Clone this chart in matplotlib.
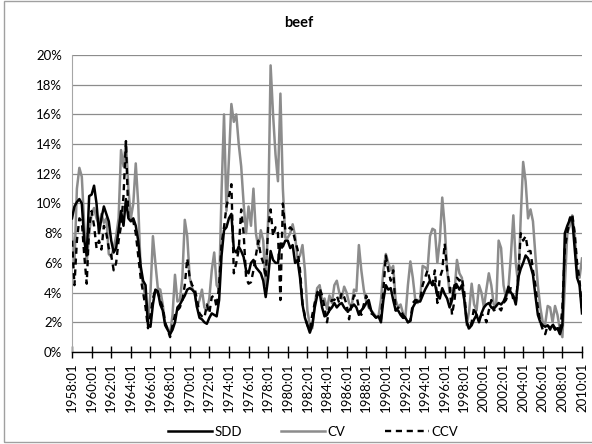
import numpy as np
import matplotlib
matplotlib.use("Agg")
import matplotlib.pyplot as plt
from matplotlib.lines import Line2D
from matplotlib.patches import Rectangle

plt.rcParams['font.family'] = ['Lato', 'DejaVu Sans']

# quarterly readings (Jan, Apr, Jul, Oct) from 1958:01 to 2010:01, in percent
sdd = [
    9.0, 9.8, 10.1, 10.3,   # 1958
    10.0, 7.5, 6.5, 10.5,   # 1959
    10.6, 11.2, 10.0, 8.0,  # 1960
    9.0, 9.8, 9.3, 8.8,     # 1961
    7.5, 6.7, 7.0, 8.2,     # 1962
    9.5, 8.5, 10.3, 9.0,    # 1963
    8.8, 9.0, 8.5, 7.5,     # 1964
    5.8, 4.8, 4.5, 1.8,     # 1965
    1.7, 3.2, 4.2, 4.1,     # 1966
    3.2, 2.8, 1.8, 1.5,     # 1967
    1.2, 1.5, 2.0, 3.0,     # 1968
    3.2, 3.5, 3.8, 4.2,     # 1969
    4.3, 4.2, 4.0, 3.0,     # 1970
    2.3, 2.2, 2.0, 1.9,     # 1971
    2.3, 2.6, 2.5, 2.4,     # 1972
    3.5, 6.5, 8.2, 8.4,     # 1973
    9.0, 9.3, 6.9, 6.7,     # 1974
    7.1, 6.8, 6.4, 5.5,     # 1975
    5.3, 6.0, 6.2, 5.7,     # 1976
    5.5, 5.3, 4.8, 3.7,     # 1977
    5.0, 6.8, 6.2, 6.0,     # 1978
    6.0, 7.3, 7.1, 7.5,     # 1979
    7.5, 7.0, 7.2, 6.0,     # 1980
    6.2, 5.0, 3.2, 2.3,     # 1981
    1.8, 1.3, 1.8, 3.0,     # 1982
    3.8, 4.0, 3.0, 2.4,     # 1983
    2.5, 2.8, 3.0, 3.3,     # 1984
    3.0, 3.2, 3.3, 3.0,     # 1985
    2.8, 2.8, 3.0, 3.2,     # 1986
    3.0, 2.5, 2.8, 3.0,     # 1987
    3.3, 3.5, 2.8, 2.5,     # 1988
    2.3, 2.4, 2.0, 3.5,     # 1989
    4.5, 4.2, 4.3, 3.5,     # 1990
    2.8, 2.8, 2.5, 2.3,     # 1991
    2.3, 2.0, 2.1, 3.0,     # 1992
    3.3, 3.4, 3.4, 3.8,     # 1993
    4.2, 4.5, 4.8, 4.5,     # 1994
    4.6, 3.8, 3.6, 4.3,     # 1995
    3.9, 3.6, 3.0, 3.5,     # 1996
    4.5, 4.5, 4.2, 4.5,     # 1997
    3.5, 2.0, 1.6, 1.8,     # 1998
    2.2, 2.5, 2.0, 2.6,     # 1999
    3.0, 3.2, 3.3, 3.0,     # 2000
    2.9, 3.1, 3.3, 3.2,     # 2001
    3.4, 3.8, 4.4, 4.0,     # 2002
    3.8, 3.2, 5.0, 5.6,     # 2003
    6.0, 6.5, 6.3, 5.8,     # 2004
    5.2, 3.8, 2.5, 2.0,     # 2005
    1.8, 1.7, 1.8, 1.6,     # 2006
    1.8, 1.5, 1.6, 1.2,     # 2007
    1.8, 8.0, 8.5, 8.9,     # 2008
    9.0, 7.0, 5.0, 4.5,     # 2009
    2.6,                    # 2010
]

cv = [
    8.0, 6.0, 11.0, 12.4,   # 1958
    11.8, 8.5, 6.0, 8.0,    # 1959
    9.3, 9.7, 9.0, 8.6,     # 1960
    9.3, 8.7, 9.0, 6.6,     # 1961
    6.4, 7.0, 7.8, 9.0,     # 1962
    13.6, 12.5, 14.2, 11.0, # 1963
    9.0, 10.0, 12.7, 10.0,  # 1964
    5.5, 4.5, 3.7, 2.0,     # 1965
    4.0, 7.8, 6.0, 4.3,     # 1966
    4.2, 3.2, 1.9, 1.6,     # 1967
    1.2, 2.5, 5.2, 3.4,     # 1968
    3.5, 5.0, 8.9, 7.8,     # 1969
    5.0, 4.3, 4.0, 3.0,     # 1970
    3.5, 4.2, 3.0, 2.8,     # 1971
    3.6, 5.5, 6.7, 4.5,     # 1972
    4.2, 10.8, 16.0, 9.5,   # 1973
    13.0, 16.7, 15.5, 16.0, # 1974
    14.0, 12.5, 10.0, 8.0,  # 1975
    9.8, 8.5, 11.0, 8.0,    # 1976
    7.0, 8.2, 7.5, 4.5,     # 1977
    9.0, 19.3, 16.0, 13.3,  # 1978
    11.5, 17.4, 11.0, 7.7,  # 1979
    7.7, 8.0, 8.6, 7.8,     # 1980
    6.2, 6.5, 7.2, 5.5,     # 1981
    2.8, 1.8, 1.6, 3.2,     # 1982
    4.3, 4.5, 3.5, 3.6,     # 1983
    2.9, 3.8, 3.3, 4.5,     # 1984
    4.8, 4.0, 3.6, 4.4,     # 1985
    4.0, 3.3, 3.0, 4.2,     # 1986
    4.1, 7.2, 5.5, 4.2,     # 1987
    3.4, 3.0, 2.8, 2.6,     # 1988
    2.4, 2.4, 3.5, 5.5,     # 1989
    6.6, 6.0, 5.5, 5.8,     # 1990
    3.5, 3.0, 3.2, 2.6,     # 1991
    2.4, 4.5, 6.1, 5.0,     # 1992
    3.5, 3.3, 3.6, 5.8,     # 1993
    5.7, 5.5, 7.8, 8.3,     # 1994
    8.2, 6.0, 7.5, 10.4,    # 1995
    8.5, 5.5, 4.0, 4.3,     # 1996
    4.0, 6.2, 5.3, 5.0,     # 1997
    3.5, 1.8, 2.8, 4.6,     # 1998
    3.2, 2.8, 4.5, 4.0,     # 1999
    3.0, 4.2, 5.3, 4.5,     # 2000
    3.2, 3.1, 7.5, 7.0,     # 2001
    4.5, 3.6, 4.3, 6.5,     # 2002
    9.2, 6.0, 4.5, 9.0,     # 2003
    12.8, 11.5, 9.0, 9.6,   # 2004
    8.8, 6.5, 4.5, 3.0,     # 2005
    2.0, 1.9, 3.1, 3.0,     # 2006
    2.0, 3.1, 2.5, 1.5,     # 2007
    1.0, 4.5, 8.0, 8.5,     # 2008
    9.2, 8.0, 5.5, 5.0,     # 2009
    6.3,                    # 2010
]

ccv = [
    7.5, 4.5, 7.5, 9.0,     # 1958
    8.8, 6.5, 4.6, 8.5,     # 1959
    9.5, 8.5, 7.0, 7.5,     # 1960
    6.9, 8.5, 8.0, 7.0,     # 1961
    6.5, 5.5, 6.0, 7.5,     # 1962
    8.5, 10.5, 14.2, 9.0,   # 1963
    9.0, 8.8, 8.0, 6.5,     # 1964
    5.0, 4.0, 3.0, 1.6,     # 1965
    2.5, 3.6, 4.2, 4.0,     # 1966
    3.5, 3.0, 2.0, 1.5,     # 1967
    1.0, 1.8, 2.5, 2.8,     # 1968
    3.0, 3.5, 4.5, 6.3,     # 1969
    5.0, 4.5, 4.3, 3.5,     # 1970
    2.6, 2.4, 2.3, 3.2,     # 1971
    2.6, 3.7, 3.8, 3.0,     # 1972
    4.5, 7.3, 8.4, 9.8,     # 1973
    10.5, 11.3, 5.3, 6.0,   # 1974
    6.9, 9.6, 8.0, 5.0,     # 1975
    4.6, 4.7, 5.5, 6.5,     # 1976
    7.5, 6.5, 6.0, 5.0,     # 1977
    8.4, 9.6, 7.8, 8.4,     # 1978
    8.0, 3.5, 10.0, 8.2,    # 1979
    8.2, 8.4, 8.2, 7.5,     # 1980
    6.9, 5.5, 3.3, 2.4,     # 1981
    1.8, 1.5, 2.5, 3.3,     # 1982
    4.0, 4.3, 3.8, 3.0,     # 1983
    2.0, 3.0, 3.5, 3.5,     # 1984
    3.8, 3.3, 4.0, 3.7,     # 1985
    3.2, 2.2, 3.2, 3.8,     # 1986
    3.8, 3.0, 2.5, 3.2,     # 1987
    3.8, 3.2, 2.6, 2.5,     # 1988
    2.3, 2.3, 2.2, 4.2,     # 1989
    6.5, 5.5, 4.8, 5.5,     # 1990
    2.8, 3.0, 2.8, 2.5,     # 1991
    2.3, 2.0, 2.1, 3.3,     # 1992
    3.5, 3.5, 3.5, 4.5,     # 1993
    5.0, 5.5, 4.8, 4.5,     # 1994
    5.5, 3.3, 5.0, 5.5,     # 1995
    7.3, 5.5, 4.5, 2.5,     # 1996
    3.5, 5.0, 4.8, 5.0,     # 1997
    4.0, 2.0, 1.5, 2.0,     # 1998
    3.0, 2.5, 2.2, 2.5,     # 1999
    2.5, 2.0, 2.8, 3.5,     # 2000
    2.8, 2.9, 3.0, 2.8,     # 2001
    3.3, 3.5, 4.0, 4.3,     # 2002
    3.5, 3.3, 5.0, 8.0,     # 2003
    7.5, 7.8, 6.8, 6.8,     # 2004
    5.5, 4.5, 3.0, 2.0,     # 2005
    1.5, 1.2, 1.8, 1.5,     # 2006
    1.9, 1.6, 1.8, 1.2,     # 2007
    3.0, 7.0, 8.0, 9.0,     # 2008
    9.3, 8.0, 6.0, 4.8,     # 2009
    2.8,                    # 2010
]

tick_years = list(range(1958, 2011, 2))
tick_labels = [f"{y}:01" for y in tick_years]
tick_months = [(y - 1958) * 12 for y in tick_years]

months = np.arange(len(sdd)) * 3

fig = plt.figure(figsize=(5.92, 4.44), dpi=100)
ax = fig.add_axes([72 / 592, 92 / 444, 510 / 592, 297 / 444])

dash = (2.6, 2.0)
ax.plot(months, cv, color='#8c8c8c', lw=1.8, zorder=2)
ax.plot(months, sdd, color='black', lw=1.8, zorder=3)
ax.plot(months, ccv, color='black', lw=1.7, dashes=dash, zorder=4)

ax.set_xlim(0, 624)
ax.set_ylim(0, 20)
ax.set_yticks(range(0, 21, 2))
ax.set_yticklabels([f"{v}%" for v in range(0, 21, 2)])
ax.set_xticks(tick_months)
ax.set_xticklabels(tick_labels, rotation=90)

ax.yaxis.grid(True, color='#8c8c8c', lw=0.9)
ax.set_axisbelow(True)
for s in ['top', 'right']:
    ax.spines[s].set_visible(False)
ax.spines['left'].set_color('#a6a6a6')
ax.spines['bottom'].set_color('black')
ax.spines['bottom'].set_linewidth(1.0)
ax.spines['bottom'].set_zorder(5)

ax.tick_params(axis='x', direction='inout', length=9, width=1, labelsize=9.5, pad=3)
ax.tick_params(axis='y', length=0, labelsize=9.5, pad=7)

fig.text(0.505, 1 - 23 / 444, 'beef', ha='center', va='center',
         fontsize=10.5, fontweight='bold')

handles = [Line2D([], [], color='black', lw=1.8),
           Line2D([], [], color='#8c8c8c', lw=1.8),
           Line2D([], [], color='black', lw=1.7, dashes=dash)]
fig.legend(handles, ['SDD', 'CV', 'CCV'], loc='center',
           bbox_to_anchor=(313 / 592, 1 - 432 / 444), ncol=3, frameon=False,
           fontsize=9.5, handlelength=3.3, handletextpad=0.2, columnspacing=3.0)

fig.patches.append(Rectangle((4 / 592, 2.5 / 444), 1.0, 440 / 444,
                             transform=fig.transFigure, fill=False,
                             ec='#a0a0a0', lw=1))

fig.savefig('out.png', dpi=100)
